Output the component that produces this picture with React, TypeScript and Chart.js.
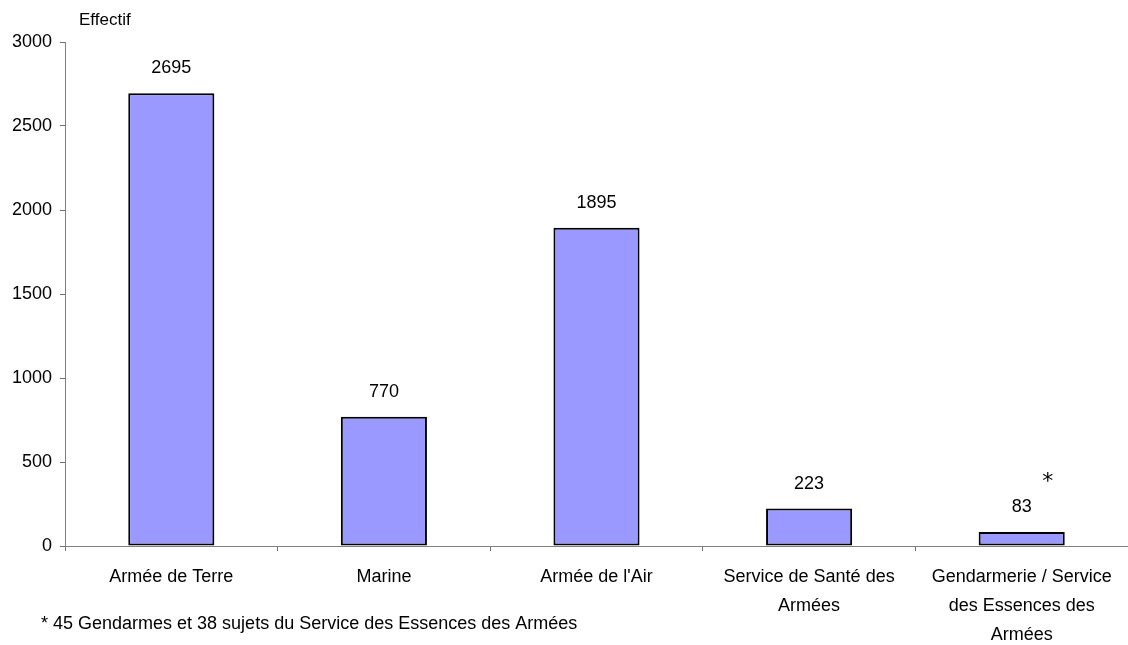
import React, { useEffect, useRef } from "react";
import { Chart, registerables } from "chart.js";

Chart.register(...registerables);

const categories: (string | string[])[] = [
  "Armée de Terre",
  "Marine",
  "Armée de l'Air",
  ["Service de Santé des", "Armées"],
  ["Gendarmerie / Service", "des Essences des", "Armées"],
];
const effectifs = [2695, 770, 1895, 223, 83];
const starredIndex = 4;
const yAxisTitle = "Effectif";
const footnote = "* 45 Gendarmes et 38 sujets du Service des Essences des Armées";

const FONT = '"Liberation Sans", Arial, sans-serif';

const labelsPlugin = {
  id: "labelsPlugin",
  afterDatasetsDraw(chart: any) {
    const ctx = chart.ctx;
    const meta = chart.getDatasetMeta(0);
    ctx.save();
    ctx.fillStyle = "#000";
    ctx.font = `18px ${FONT}`;
    ctx.textAlign = "center";
    ctx.textBaseline = "middle";
    meta.data.forEach((bar: any, i: number) => {
      ctx.fillText(String(effectifs[i]), bar.x, bar.y - 25);
      if (i === starredIndex) {
        ctx.font = `22px "DejaVu Sans", ${FONT}`;
        ctx.fillText("*", bar.x + 26, bar.y - 50);
        ctx.font = `18px ${FONT}`;
      }
    });
    ctx.textAlign = "left";
    ctx.font = `17px ${FONT}`;
    ctx.fillText(yAxisTitle, 79, 20);
    ctx.font = `18px ${FONT}`;
    ctx.fillText(footnote, 41, 624);
    ctx.restore();
  },
};

export default function App() {
  const ref = useRef<HTMLCanvasElement>(null);
  useEffect(() => {
    if (!ref.current) return;
    const chart = new Chart(ref.current, {
      type: "bar",
      data: {
        labels: categories,
        datasets: [
          {
            data: effectifs,
            backgroundColor: "#9999FF",
            borderColor: "#000000",
            borderWidth: 2,
            borderSkipped: false,
            barPercentage: 0.405,
            categoryPercentage: 1,
          },
        ],
      },
      options: {
        animation: false,
        responsive: false,
        layout: { padding: { top: 42, right: 0, bottom: 0, left: 0 } },
        plugins: {
          legend: { display: false },
          tooltip: { enabled: false },
          title: { display: false },
        },
        scales: {
          x: {
            grid: {
              offset: true,
              drawOnChartArea: false,
              drawTicks: true,
              tickLength: 5,
              color: "#707070",
            },
            border: { color: "#808080", width: 1 },
            ticks: {
              color: "#000",
              font: { family: FONT, size: 18, lineHeight: 29 / 18 },
              padding: 12,
              maxRotation: 0,
              minRotation: 0,
              autoSkip: false,
            },
            afterFit: (scale: any) => {
              scale.height = 99;
            },
          },
          y: {
            min: 0,
            max: 3000,
            grid: {
              drawOnChartArea: false,
              drawTicks: true,
              tickLength: 5,
              color: "#707070",
            },
            border: { color: "#808080", width: 1 },
            ticks: {
              stepSize: 500,
              color: "#000",
              font: { family: FONT, size: 18 },
              padding: 8,
              callback: (v: any) => String(v),
            },
            afterFit: (scale: any) => {
              scale.width = 65;
            },
          },
        },
      },
      plugins: [labelsPlugin],
    });
    return () => chart.destroy();
  }, []);
  return (
    <canvas
      ref={ref}
      width={1128}
      height={645}
      style={{ position: "fixed", left: 0, top: 0, display: "block", background: "#fff" }}
    />
  );
}
